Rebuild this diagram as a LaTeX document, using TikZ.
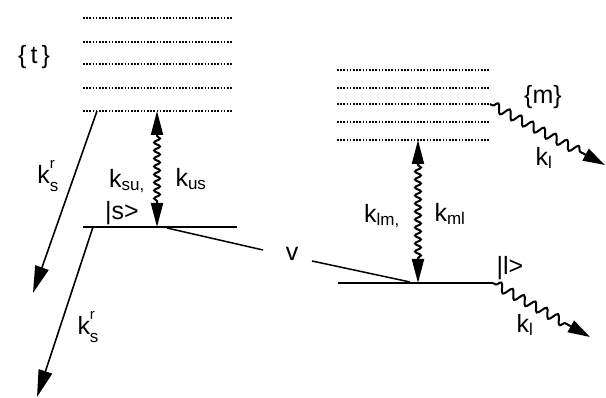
\documentclass[tikz,border=0pt]{standalone}
\usepackage{fontspec}
\setmainfont{Liberation Sans}
\usetikzlibrary{decorations.pathmorphing,arrows.meta}
\newcommand{\sbx}[1]{\hbox{\fontsize{17}{17}\selectfont #1}}
\newcommand{\ksr}{k\rlap{\raisebox{0.62em}{\fontsize{15}{15}\selectfont r}}\raisebox{-0.32em}{\fontsize{17}{17}\selectfont s}}
\begin{document}
\begin{tikzpicture}[x=1pt,y=-1pt,
  manifold/.style={line width=1.3pt,dash pattern=on 1.6pt off 1.6pt},
  level/.style={line width=1.8pt},
  decay/.style={line width=1.6pt,-{Triangle[length=27pt,width=14pt]}},
  couple/.style={line width=1.5pt},
  lbl/.style={inner sep=0pt,font=\fontsize{25}{27}\selectfont},
  dbl/.style={line width=2pt,{Triangle[length=24pt,width=12pt]}-{Triangle[length=24pt,width=12pt]},
    decorate,decoration={snake,amplitude=3pt,segment length=8pt,pre length=25pt,post length=25pt}},
  emit/.style={line width=2pt,-{Triangle[length=22pt,width=13pt]},
    decorate,decoration={snake,amplitude=4.5pt,segment length=13pt,pre length=3pt,post length=22pt}}]
\useasboundingbox (0,0) rectangle (606,398);
% manifold t
\foreach \y [count=\i] in {18,42,64,88,111}{
  \coordinate (tL\i) at (83,\y); \coordinate (tR\i) at (233,\y);
  \draw[manifold] (tL\i) -- (tR\i);}
% manifold m
\foreach \y [count=\i] in {70,88,104,122,140}{
  \coordinate (mL\i) at (337,\y); \coordinate (mR\i) at (490,\y);
  \draw[manifold] (mL\i) -- (mR\i);}
% levels
\coordinate (sL) at (83,227); \coordinate (sR) at (237,227);
\coordinate (lL) at (338,283); \coordinate (lR) at (493,283);
\draw[level] (sL) -- (sR);
\draw[level] (lL) -- (lR);
% points
\coordinate (tbot) at (97,111);
\coordinate (tA) at (33,293);
\coordinate (sdec) at (93,227);
\coordinate (sA) at (37,397);
\coordinate (tc) at (157,111);
\coordinate (sc) at (157,227);
\coordinate (mc) at (418,140);
\coordinate (lc) at (418,283);
\coordinate (v1) at (167,228);
\coordinate (v2) at (263,250);
\coordinate (v3) at (312,261);
\coordinate (v4) at (410,282);
\coordinate (mA) at (605,165);
\coordinate (lA) at (590,337);
% arrows
\draw[decay] (tbot) -- (tA);
\draw[decay] (sdec) -- (sA);
\draw[couple] (v1) -- (v2);
\draw[couple] (v3) -- (v4);
\draw[dbl] (tc) -- (sc);
\draw[dbl] (mc) -- (lc);
\draw[emit] (mR3) -- (mA);
\draw[emit] (lR) -- (lA);
% labels
\node[lbl] (t) at (34,57) {\{\,t\,\}};
\node[lbl] (m) at (543,97) {\{m\}};
\node[lbl] (ks1) at (48,176) {\ksr};
\node[lbl] (ks2) at (88,327) {\ksr};
\node[lbl] (ksu) at (127,181) {$\mathrm{k}_{\sbx{su,}}$};
\node[lbl] (kus) at (191,179) {$\mathrm{k}_{\sbx{us}}$};
\node[lbl] (ket) at (122,213) {|s>};
\node[lbl] (v) at (292,254) {v};
\node[lbl] (klm) at (382,216) {$\mathrm{k}_{\sbx{lm,}}$};
\node[lbl] (kml) at (450,214) {$\mathrm{k}_{\sbx{ml}}$};
\node[lbl] (kl1) at (544,158) {$\mathrm{k}_{\sbx{l}}$};
\node[lbl] (lket) at (510,268) {|l>};
\node[lbl] (kl2) at (525,325) {$\mathrm{k}_{\sbx{l}}$};
\end{tikzpicture}
\end{document}
